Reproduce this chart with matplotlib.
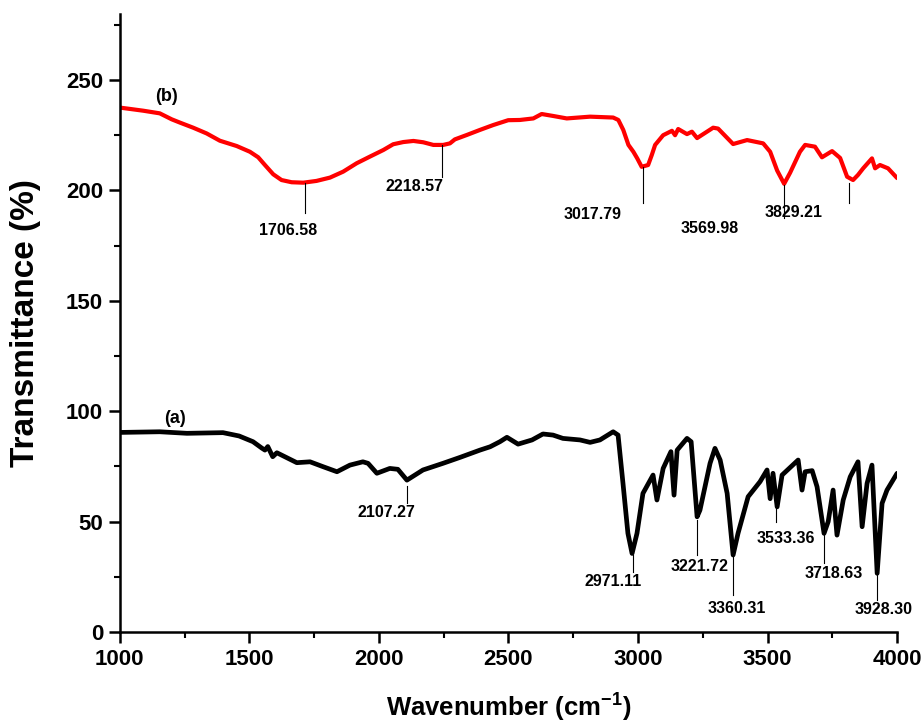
import matplotlib
matplotlib.use("Agg")
import matplotlib.pyplot as plt
from matplotlib.ticker import MultipleLocator

plt.rcParams['font.family'] = ['Liberation Sans', 'DejaVu Sans']
plt.rcParams['font.weight'] = 'bold'
plt.rcParams['mathtext.fontset'] = 'custom'
plt.rcParams['mathtext.bf'] = 'Liberation Sans:bold'
plt.rcParams['mathtext.rm'] = 'Liberation Sans:bold'

# Spectrum (b) - red
wn_b = [1000, 1039, 1090, 1154, 1200, 1232, 1283, 1335, 1386, 1451, 1502, 1534, 1560,
        1592, 1624, 1663, 1708, 1759, 1811, 1862, 1914, 1965, 2017, 2055, 2094, 2133,
        2171, 2210, 2248, 2274, 2293, 2339, 2390, 2441, 2499, 2544, 2596, 2628, 2673,
        2725, 2815, 2904, 2924, 2943, 2963, 2982, 2997, 3014, 3039, 3053, 3066, 3097,
        3131, 3143, 3155, 3189, 3208, 3228, 3290, 3309, 3367, 3421, 3483, 3510, 3537,
        3564, 3587, 3625, 3645, 3683, 3710, 3749, 3780, 3807, 3830, 3849, 3869, 3903,
        3915, 3934, 3965, 4000]
t_b = [237.5, 236.9, 236.1, 234.9, 232.2, 230.7, 228.4, 225.8, 222.5, 220.1, 217.5, 215.0, 211.5,
       207.3, 204.7, 203.7, 203.5, 204.3, 205.8, 208.5, 212.3, 215.3, 218.3, 220.9, 221.9, 222.4,
       221.8, 220.6, 220.6, 221.3, 223.1, 225.1, 227.4, 229.6, 231.8, 231.9, 232.6, 234.6, 233.7,
       232.6, 233.4, 233.0, 231.9, 227.4, 220.6, 217.5, 214.5, 210.7, 211.5, 216.0, 220.6, 225.0,
       227.0, 225.0, 227.8, 225.5, 226.6, 223.7, 228.4, 228.0, 221.0, 222.8, 221.3, 217.5, 209.0,
       203.0, 208.0, 217.5, 220.6, 219.8, 215.0, 217.8, 214.7, 206.2, 204.7, 207.0, 210.0, 214.5,
       210.0, 211.5, 210.0, 205.6]

# Spectrum (a) - black
wn_a = [1000, 1154, 1259, 1398, 1460, 1514, 1548, 1560, 1571, 1590, 1606, 1683, 1734, 1784,
        1838, 1888, 1938, 1958, 1992, 2042, 2073, 2108, 2170, 2247, 2313, 2390, 2429,
        2467, 2494, 2537, 2591, 2633, 2672, 2710, 2776, 2815, 2853, 2904, 2923, 2942,
        2961, 2977, 2996, 3019, 3058, 3073, 3097, 3127, 3139, 3151, 3189, 3205, 3228,
        3239, 3278, 3297, 3317, 3344, 3367, 3386, 3425, 3471, 3498, 3510, 3521, 3537,
        3556, 3618, 3633, 3645, 3672, 3691, 3718, 3734, 3753, 3768, 3792, 3819, 3849,
        3865, 3884, 3903, 3923, 3942, 3961, 4000]
t_a = [90.4, 90.7, 90.0, 90.3, 88.8, 86.2, 83.3, 82.4, 84.0, 79.4, 81.2, 76.7, 77.1, 74.9,
       72.6, 75.6, 77.1, 76.4, 71.9, 74.1, 73.7, 68.8, 73.4, 76.4, 79.1, 82.4, 83.9,
       86.2, 88.2, 85.1, 87.0, 89.7, 89.2, 87.7, 87.0, 85.9, 87.0, 90.7, 89.2, 67.3,
       44.7, 35.6, 44.7, 62.8, 71.1, 59.8, 74.1, 81.7, 62.0, 82.4, 87.7, 86.2, 52.2,
       55.2, 76.4, 83.2, 77.9, 62.8, 34.9, 44.7, 61.3, 68.1, 73.4, 60.4, 71.9, 56.7,
       71.1, 77.9, 64.3, 72.6, 73.1, 65.8, 44.7, 50.0, 64.3, 43.9, 59.8, 70.3, 77.1,
       47.7, 67.3, 75.6, 26.6, 58.3, 64.3, 71.9]

# Peak annotations: label text, label x, label y, line x, line y0, line y1
peak_labels_b = ['1706.58', '2218.57', '3017.79', '3569.98', '3829.21', '']
peak_text_x_b = [1649, 2139, 2825, 3275, 3602, None]
peak_text_y_b = [182, 201.7, 188.9, 182.8, 190, None]
peak_line_x_b = [1714, 2242, 3020, None, 3564, 3816]
peak_line_y0_b = [203.5, 220.6, 210.4, None, 202.4, 203.2]
peak_line_y1_b = [189.8, 206.2, 194.1, None, 187.4, 194.1]

peak_labels_a = ['2107.27', '2971.11', '3221.72', '3360.31', '3533.36', '3718.63', '3928.30']
peak_text_x_a = [2030, 2905, 3237, 3381, 3571, 3754, 3947]
peak_text_y_a = [54, 22.8, 29.9, 10.7, 42.4, 26.6, 10]
peak_line_x_a = [2107, 2979, 3227, 3366, 3533, 3718, 3922]
peak_line_y0_a = [66.1, 34.9, 50.7, 34.1, 56, 44.7, 26.6]
peak_line_y1_a = [58.3, 27.3, 34.9, 16.8, 50, 31.1, 14.5]

fig = plt.figure(figsize=(9.22, 7.24), dpi=100)
ax = fig.add_axes([0.130, 0.127, 0.843, 0.854])

ax.plot(wn_b, t_b, color='#ff0000', lw=3.0, solid_joinstyle='round', solid_capstyle='round')
ax.plot(wn_a, t_a, color='black', lw=3.4, solid_joinstyle='round', solid_capstyle='round')

def annotate(labels, tx, ty, lx, ly0, ly1):
    for lab, x, y, xl, y0, y1 in zip(labels, tx, ty, lx, ly0, ly1):
        if xl is not None:
            ax.plot([xl, xl], [y0, y1], color='black', lw=0.8)
        if lab:
            ax.text(x, y, lab, ha='center', va='center', fontsize=11.5, fontweight='bold')

annotate(peak_labels_b, peak_text_x_b, peak_text_y_b, peak_line_x_b, peak_line_y0_b, peak_line_y1_b)
annotate(peak_labels_a, peak_text_x_a, peak_text_y_a, peak_line_x_a, peak_line_y0_a, peak_line_y1_a)

ax.text(1181, 242.5, '(b)', ha='center', va='center', fontsize=13, fontweight='bold')
ax.text(1212, 96.5, '(a)', ha='center', va='center', fontsize=13, fontweight='bold')

ax.set_xlim(1000, 4000)
ax.set_ylim(0, 280)
ax.xaxis.set_major_locator(MultipleLocator(500))
ax.xaxis.set_minor_locator(MultipleLocator(250))
ax.yaxis.set_major_locator(MultipleLocator(50))
ax.yaxis.set_minor_locator(MultipleLocator(25))

for s in ['top', 'right']:
    ax.spines[s].set_visible(False)
for s in ['left', 'bottom']:
    ax.spines[s].set_linewidth(1.8)

ax.tick_params(which='major', direction='out', length=8, width=1.8, labelsize=16, pad=4)
ax.tick_params(which='minor', direction='out', length=4, width=1.5)
for lbl in ax.get_xticklabels() + ax.get_yticklabels():
    lbl.set_fontweight('bold')

ax.set_xlabel('Wavenumber (cm$^{\\mathbf{-1}}$)', fontsize=18.5, fontweight='bold', labelpad=15)
ax.set_ylabel('Transmittance (%)', fontsize=24, fontweight='bold', labelpad=18)

fig.savefig('out.png', dpi=100)
